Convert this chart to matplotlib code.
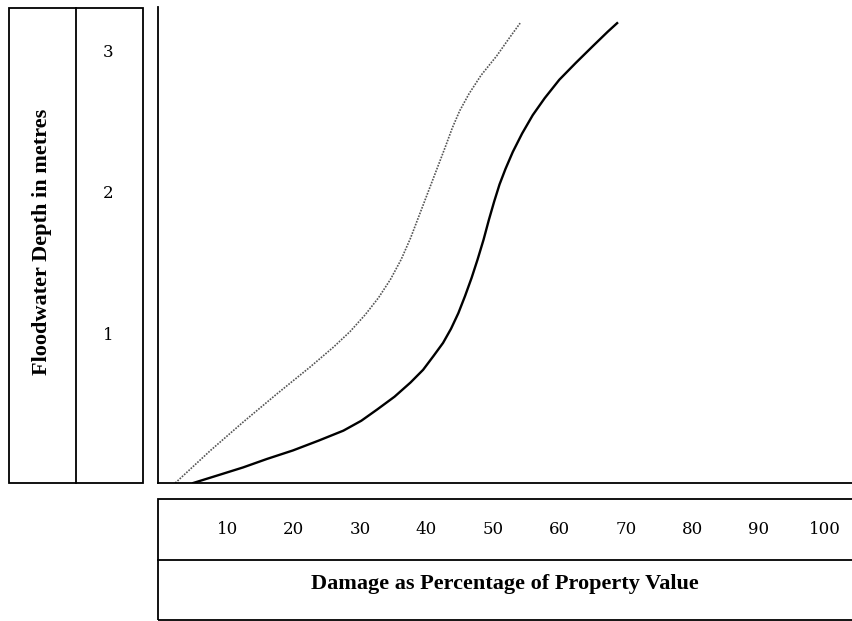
import matplotlib
matplotlib.use("Agg")
import matplotlib.pyplot as plt
from matplotlib.patches import Rectangle
from matplotlib.lines import Line2D
from matplotlib.transforms import ScaledTranslation

# damage (% of property value) vs floodwater depth (m)
dotted_damage = [2.2, 7.5, 12.4, 17.5, 22.5, 26.0, 28.5, 30.8, 32.8, 34.6, 36.2,
                 37.6, 38.9, 40.2, 41.5, 42.8, 43.9, 45.0, 46.4, 48.2, 50.6,
                 52.4, 54.1]
dotted_depth = [0.0, 0.23, 0.43, 0.63, 0.82, 0.96, 1.07, 1.19, 1.31, 1.44, 1.58,
                1.73, 1.89, 2.05, 2.21, 2.37, 2.51, 2.63, 2.75, 2.88, 3.02,
                3.14, 3.25]

solid_damage = [4.9, 9.0, 12.4, 16.0, 19.9, 23.8, 27.5, 30.2, 32.6, 35.2, 37.6,
                39.5, 41.1, 42.5, 43.7, 44.8, 45.8, 46.8, 47.7, 48.6, 49.4,
                50.2, 51.0, 51.9, 53.0, 54.4, 56.0, 57.8, 60.0, 62.5, 65.1,
                67.3, 68.7]
solid_depth = [0.0, 0.06, 0.11, 0.17, 0.23, 0.30, 0.37, 0.44, 0.52, 0.61, 0.71,
               0.80, 0.90, 0.99, 1.09, 1.20, 1.32, 1.45, 1.58, 1.72, 1.86,
               1.99, 2.11, 2.22, 2.34, 2.47, 2.60, 2.72, 2.85, 2.97, 3.09,
               3.19, 3.25]

x_ticks = [10, 20, 30, 40, 50, 60, 70, 80, 90, 100]
y_ticks = [1, 2, 3]
x_title = "Damage as Percentage of Property Value"
y_title = "Floodwater Depth in metres"

W, H = 853, 621
serif = "Liberation Serif"
tick_font = "DejaVu Serif"


def fx(px):
    return px / W


def fy(py):
    return 1 - py / H


fig = plt.figure(figsize=(W / 100, H / 100), dpi=100)

# main plot: only left and bottom spines
ax = fig.add_axes([fx(158), fy(483), fx(853) - fx(158), fy(7) - fy(483)])
ax.plot(dotted_damage, dotted_depth, color="#555555", lw=1.2,
        linestyle=(0, (1, 0.8)), solid_joinstyle="round")
ax.plot(solid_damage, solid_depth, color="black", lw=1.7, solid_joinstyle="round")
ax.set_xlim(-0.4, 104.2)
ax.set_ylim(0, 3.364)
for s in ["top", "right"]:
    ax.spines[s].set_visible(False)
for s in ["left", "bottom"]:
    ax.spines[s].set_linewidth(1.3)
ax.set_xticks([])
ax.set_yticks([])

# tick labels sit in the boxes outside the axes
ytr = ax.get_yaxis_transform() + ScaledTranslation(0, 6.5 / 100, fig.dpi_scale_trans)
for v in y_ticks:
    ax.text((108 - 158) / (853 - 158), v, str(v), transform=ytr, ha="center",
            va="center", family=tick_font, fontsize=12, clip_on=False)
xtr = ax.get_xaxis_transform()
for v in x_ticks:
    ax.text(v, (483 - 529) / (483 - 7), str(v), transform=xtr, ha="center",
            va="center", family=tick_font, fontsize=12, clip_on=False)

# boxes around the axis titles
lw = 1.3
fig.add_artist(Rectangle((fx(9), fy(483)), fx(143) - fx(9), fy(8) - fy(483),
                         fill=False, lw=lw, ec="black", transform=fig.transFigure))
fig.add_artist(Line2D([fx(76), fx(76)], [fy(8), fy(483)], lw=lw, color="black",
                      transform=fig.transFigure))
fig.add_artist(Rectangle((fx(158), fy(620)), fx(870) - fx(158), fy(499) - fy(620),
                         fill=False, lw=lw, ec="black", transform=fig.transFigure))
fig.add_artist(Line2D([fx(158), fx(853)], [fy(560), fy(560)], lw=lw, color="black",
                      transform=fig.transFigure))

fig.text(fx(42), fy(242), y_title, rotation=90, ha="center", va="center",
         family=serif, fontweight="bold", fontsize=16)
fig.text(fx(505), fy(584), x_title, ha="center", va="center",
         family=serif, fontweight="bold", fontsize=16)

fig.savefig("out.png", dpi=100)
